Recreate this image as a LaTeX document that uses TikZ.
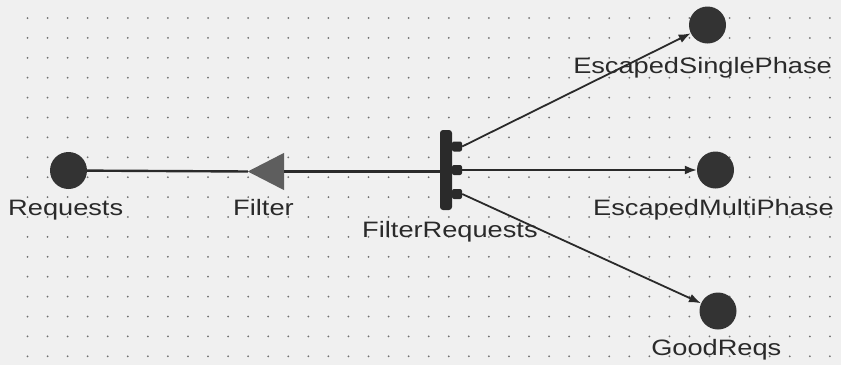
\documentclass[tikz,border=0pt]{standalone}
\usepackage{fontspec}
\setmainfont{Liberation Sans}
\usetikzlibrary{arrows.meta}
\definecolor{paper}{HTML}{F0F0F0}
\definecolor{ink}{HTML}{2A2A2A}
\definecolor{tokenfill}{HTML}{333333}
\definecolor{transfill}{HTML}{5E5E5E}
\definecolor{griddot}{HTML}{707070}
\begin{document}
\begin{tikzpicture}[x=1pt,y=-1pt,
  place/.style={circle,fill=tokenfill,draw=none,minimum size=37pt,inner sep=0pt},
  portbox/.style={rectangle,rounded corners=2pt,fill=ink,minimum width=10pt,minimum height=10pt,inner sep=0pt},
  lbl/.style={anchor=base west,inner sep=0pt,text=ink,font=\fontsize{22.3}{24}\selectfont,xscale=1.22},
  link/.style={draw=ink,line width=2.4pt},
  flow/.style={draw=ink,line width=1.8pt,-{Latex[length=12pt,width=9pt]}}]
  % canvas
  \useasboundingbox (0,0) rectangle (841,365);
  \fill[paper] (0,0) rectangle (841,365);
  % dotted grid
  \foreach \i in {0,...,40}{
    \foreach \j in {0,...,17}{
      \fill[griddot] (27.5+20.06*\i,18+19.9*\j) circle (1pt);
    }
  }
  % places
  \node[place] (req) at (68.5,170.5) {};
  \node[place] (esp) at (707.5,25) {};
  \node[place] (emp) at (715.5,170) {};
  \node[place] (good) at (718,311) {};
  % filter transition (triangle pointing left)
  \node[minimum width=36pt,minimum height=37pt,inner sep=0pt] (filter) at (266,171.5) {};
  \fill[transfill] (filter.west) -- (filter.north east) -- (filter.south east) -- cycle;
  % splitting transition with three output ports
  \node[rectangle,rounded corners=3pt,fill=ink,minimum width=12pt,minimum height=80pt,inner sep=0pt] (bar) at (446,170) {};
  \node[portbox] (p1) at (457,146.5) {};
  \node[portbox] (p2) at (457,170) {};
  \node[portbox] (p3) at (457,194) {};
  % connectors
  \draw[link] (req) -- (filter.west);
  \draw[link] (filter.east) -- (bar.west |- filter.east);
  \draw[flow] (p1.east) -- (esp);
  \draw[flow] (p2.east) -- (emp);
  \draw[flow] (p3.east) -- (good);
  % labels
  \node[lbl] (lreq) at (8,215) {Requests};
  \node[lbl] (lfil) at (233,215) {Filter};
  \node[lbl] (lbar) at (362,237) {FilterRequests};
  \node[lbl] (lesp) at (573,73) {EscapedSinglePhase};
  \node[lbl] (lemp) at (593,215) {EscapedMultiPhase};
  \node[lbl] (lgood) at (651,355) {GoodReqs};
\end{tikzpicture}
\end{document}
